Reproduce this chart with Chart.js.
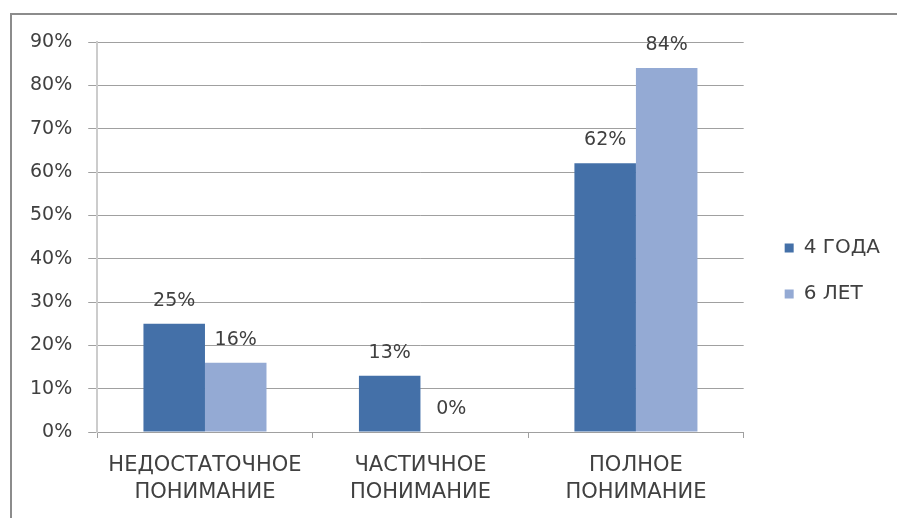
<!DOCTYPE html>
<html>
<head>
<meta charset="utf-8">
<script src="https://cdn.jsdelivr.net/npm/chart.js@4/dist/chart.umd.min.js"></script>
<style>
  html, body { margin: 0; background: #fff; overflow: hidden; }
  #chart { display: block; }
</style>
</head>
<body>
<canvas id="chart" width="897" height="518"></canvas>
<script>
const categories = [['НЕДОСТАТОЧНОЕ', 'ПОНИМАНИЕ'], ['ЧАСТИЧНОЕ', 'ПОНИМАНИЕ'], ['ПОЛНОЕ', 'ПОНИМАНИЕ']];
const seriesNames = ['4 ГОДА', '6 ЛЕТ'];
const values4 = [25, 13, 62];
const values6 = [16, 0, 84];
const seriesColors = ['#4470a8', '#94aad4'];

const textColor = '#404040';
const fontFamily = '"DejaVu Sans", sans-serif';

// grey frame along the top and left edges
const frame = {
    id: 'frame',
    beforeDraw(chart) {
        const ctx = chart.ctx;
        ctx.save();
        ctx.strokeStyle = '#8c8c8c';
        ctx.lineWidth = 2;
        ctx.beginPath();
        ctx.moveTo(11, chart.height);
        ctx.lineTo(11, 14);
        ctx.lineTo(chart.width, 14);
        ctx.stroke();
        ctx.restore();
    }
};

// value labels above every bar
const valueLabels = {
    id: 'valueLabels',
    afterDatasetsDraw(chart) {
        const ctx = chart.ctx;
        ctx.save();
        ctx.font = '19px ' + fontFamily;
        ctx.fillStyle = textColor;
        ctx.textAlign = 'center';
        ctx.textBaseline = 'middle';
        chart.data.datasets.forEach((ds, i) => {
            chart.getDatasetMeta(i).data.forEach((bar, j) => {
                ctx.fillText(ds.data[j] + '%', bar.x, bar.y - 23);
            });
        });
        ctx.restore();
    }
};

window.addEventListener('load', load);

function load(){
    const ctx = document.getElementById('chart');

    new Chart(ctx, {
        type: 'bar',
        data: {
            labels: categories,
            datasets: [{
                label: seriesNames[0],
                data: values4,
                backgroundColor: seriesColors[0]
            }, {
                label: seriesNames[1],
                data: values6,
                backgroundColor: seriesColors[1]
            }]
        },
        options: {
            responsive: false,
            animation: false,
            categoryPercentage: 0.571,
            barPercentage: 1,
            layout: {
                padding: { top: 42, bottom: 18, left: 14, right: 7 }
            },
            scales: {
                x: {
                    grid: {
                        drawOnChartArea: false,
                        color: '#a0a0a0',
                        tickLength: 6
                    },
                    border: { color: '#a0a0a0' },
                    ticks: {
                        color: textColor,
                        padding: 15,
                        maxRotation: 0,
                        font: { family: fontFamily, size: 21, lineHeight: 1.24 }
                    },
                    afterFit(scale) {
                        scale.height = 68;
                    }
                },
                y: {
                    min: 0,
                    max: 90,
                    grid: {
                        color: '#a0a0a0',
                        tickLength: 9
                    },
                    border: { color: '#cccccc', width: 2 },
                    ticks: {
                        stepSize: 10,
                        color: textColor,
                        padding: 16,
                        font: { family: fontFamily, size: 19 },
                        callback: (value) => value + '%'
                    }
                },
                // empty axis that keeps the legend clear of the plot
                gap: {
                    type: 'linear',
                    position: 'right',
                    grid: { display: false },
                    border: { display: false },
                    ticks: { display: false },
                    afterFit(scale) {
                        scale.width = 15;
                    }
                }
            },
            plugins: {
                legend: {
                    position: 'right',
                    labels: {
                        boxWidth: 9,
                        boxHeight: 9,
                        padding: 26,
                        color: textColor,
                        font: { family: fontFamily, size: 20 }
                    }
                },
                tooltip: { enabled: false }
            }
        },
        plugins: [frame, valueLabels]
    });
}
</script>
</body>
</html>
